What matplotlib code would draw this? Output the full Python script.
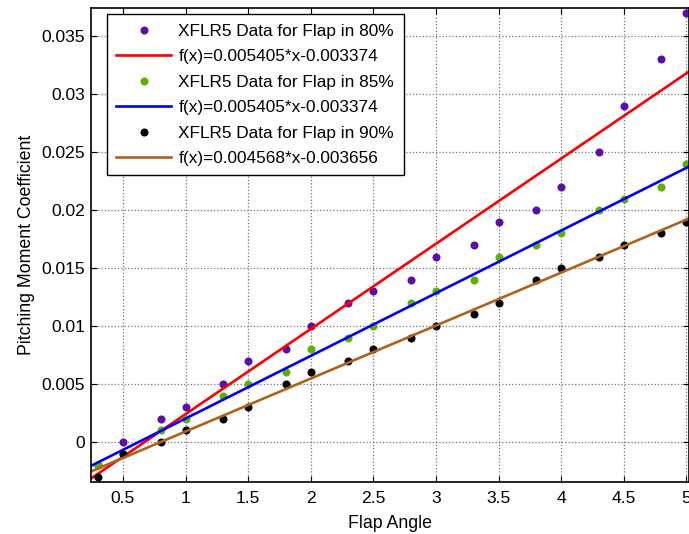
import numpy as np
import matplotlib
matplotlib.use('Agg')
import matplotlib.pyplot as plt
from matplotlib.ticker import FuncFormatter

plt.rcParams['font.family'] = ['Liberation Sans', 'DejaVu Sans']

# flap angle values
flap_angle = [0.3, 0.5, 0.8, 1.0, 1.3, 1.5, 1.8, 2.0, 2.3, 2.5,
              2.8, 3.0, 3.3, 3.5, 3.8, 4.0, 4.3, 4.5, 4.8, 5.0]

# pitching moment coefficient from XFLR5
cm_80 = [-0.002, 0.000, 0.002, 0.003, 0.005, 0.007, 0.008, 0.010, 0.012, 0.013,
         0.014, 0.016, 0.017, 0.019, 0.020, 0.022, 0.025, 0.029, 0.033, 0.037]
cm_85 = [-0.002, -0.001, 0.001, 0.002, 0.004, 0.005, 0.006, 0.008, 0.009, 0.010,
         0.012, 0.013, 0.014, 0.016, 0.017, 0.018, 0.020, 0.021, 0.022, 0.024]
cm_90 = [-0.003, -0.001, 0.000, 0.001, 0.002, 0.003, 0.005, 0.006, 0.007, 0.008,
         0.009, 0.010, 0.011, 0.012, 0.014, 0.015, 0.016, 0.017, 0.018, 0.019]

# linear fits (slope, intercept) as drawn
fit_80 = (0.007348, -0.00494)
fit_85 = (0.005405, -0.003374)
fit_90 = (0.004568, -0.003656)

labels = ['XFLR5 Data for Flap in 80%', 'f(x)=0.005405*x-0.003374',
          'XFLR5 Data for Flap in 85%', 'f(x)=0.005405*x-0.003374',
          'XFLR5 Data for Flap in 90%', 'f(x)=0.004568*x-0.003656']

xlim = (0.242, 5.02)
ylim = (-0.00342, 0.0374)

fig = plt.figure(figsize=(6.89, 5.34), dpi=100)
ax = fig.add_axes([0.1316, 0.0979, 0.8684, 0.8865])

xx = np.linspace(xlim[0], xlim[1], 200)

ax.plot(flap_angle, cm_80, 'o', color='#5c0fa8', ms=5.8, mec='none', label=labels[0])
ax.plot(xx, fit_80[0] * xx + fit_80[1], color='#ff0000', lw=1.9, label=labels[1])
ax.plot(flap_angle, cm_85, 'o', color='#5bb300', ms=5.8, mec='none', label=labels[2])
ax.plot(xx, fit_85[0] * xx + fit_85[1], color='#0000ff', lw=1.9, label=labels[3])
ax.plot(flap_angle, cm_90, 'o', color='black', ms=5.8, mec='none', label=labels[4])
ax.plot(xx, fit_90[0] * xx + fit_90[1], color='#b0621a', lw=1.9, label=labels[5])

ax.set_xlim(*xlim)
ax.set_ylim(*ylim)
ax.set_xticks(np.arange(0.5, 5.01, 0.5))
ax.set_yticks(np.arange(0, 0.0351, 0.005))
fmt = FuncFormatter(lambda v, p: ('%.3f' % v).rstrip('0').rstrip('.') if abs(v) > 1e-9 else '0')
ax.xaxis.set_major_formatter(FuncFormatter(lambda v, p: ('%.1f' % v).rstrip('0').rstrip('.')))
ax.yaxis.set_major_formatter(fmt)
ax.tick_params(direction='in', top=True, right=True, length=4, width=0.8,
               labelsize=12.6)
ax.tick_params(axis='x', pad=7)
ax.tick_params(axis='y', pad=4)
ax.grid(True, linestyle=':', color='0.45', lw=0.9)
for s in ax.spines.values():
    s.set_linewidth(1.2)

ax.set_xlabel('Flap Angle', fontsize=12.8, labelpad=6)
ax.set_ylabel('Pitching Moment Coefficient', fontsize=12.8, labelpad=5)

leg = ax.legend(loc='upper left', bbox_to_anchor=(0.027, 0.987), fontsize=12.4,
                frameon=True, fancybox=False, edgecolor='black', framealpha=1,
                handlelength=3.2, handletextpad=0.4, labelspacing=0.6,
                borderpad=0.55, borderaxespad=0)
leg.get_frame().set_linewidth(1.0)

fig.savefig('out.png', dpi=100)
